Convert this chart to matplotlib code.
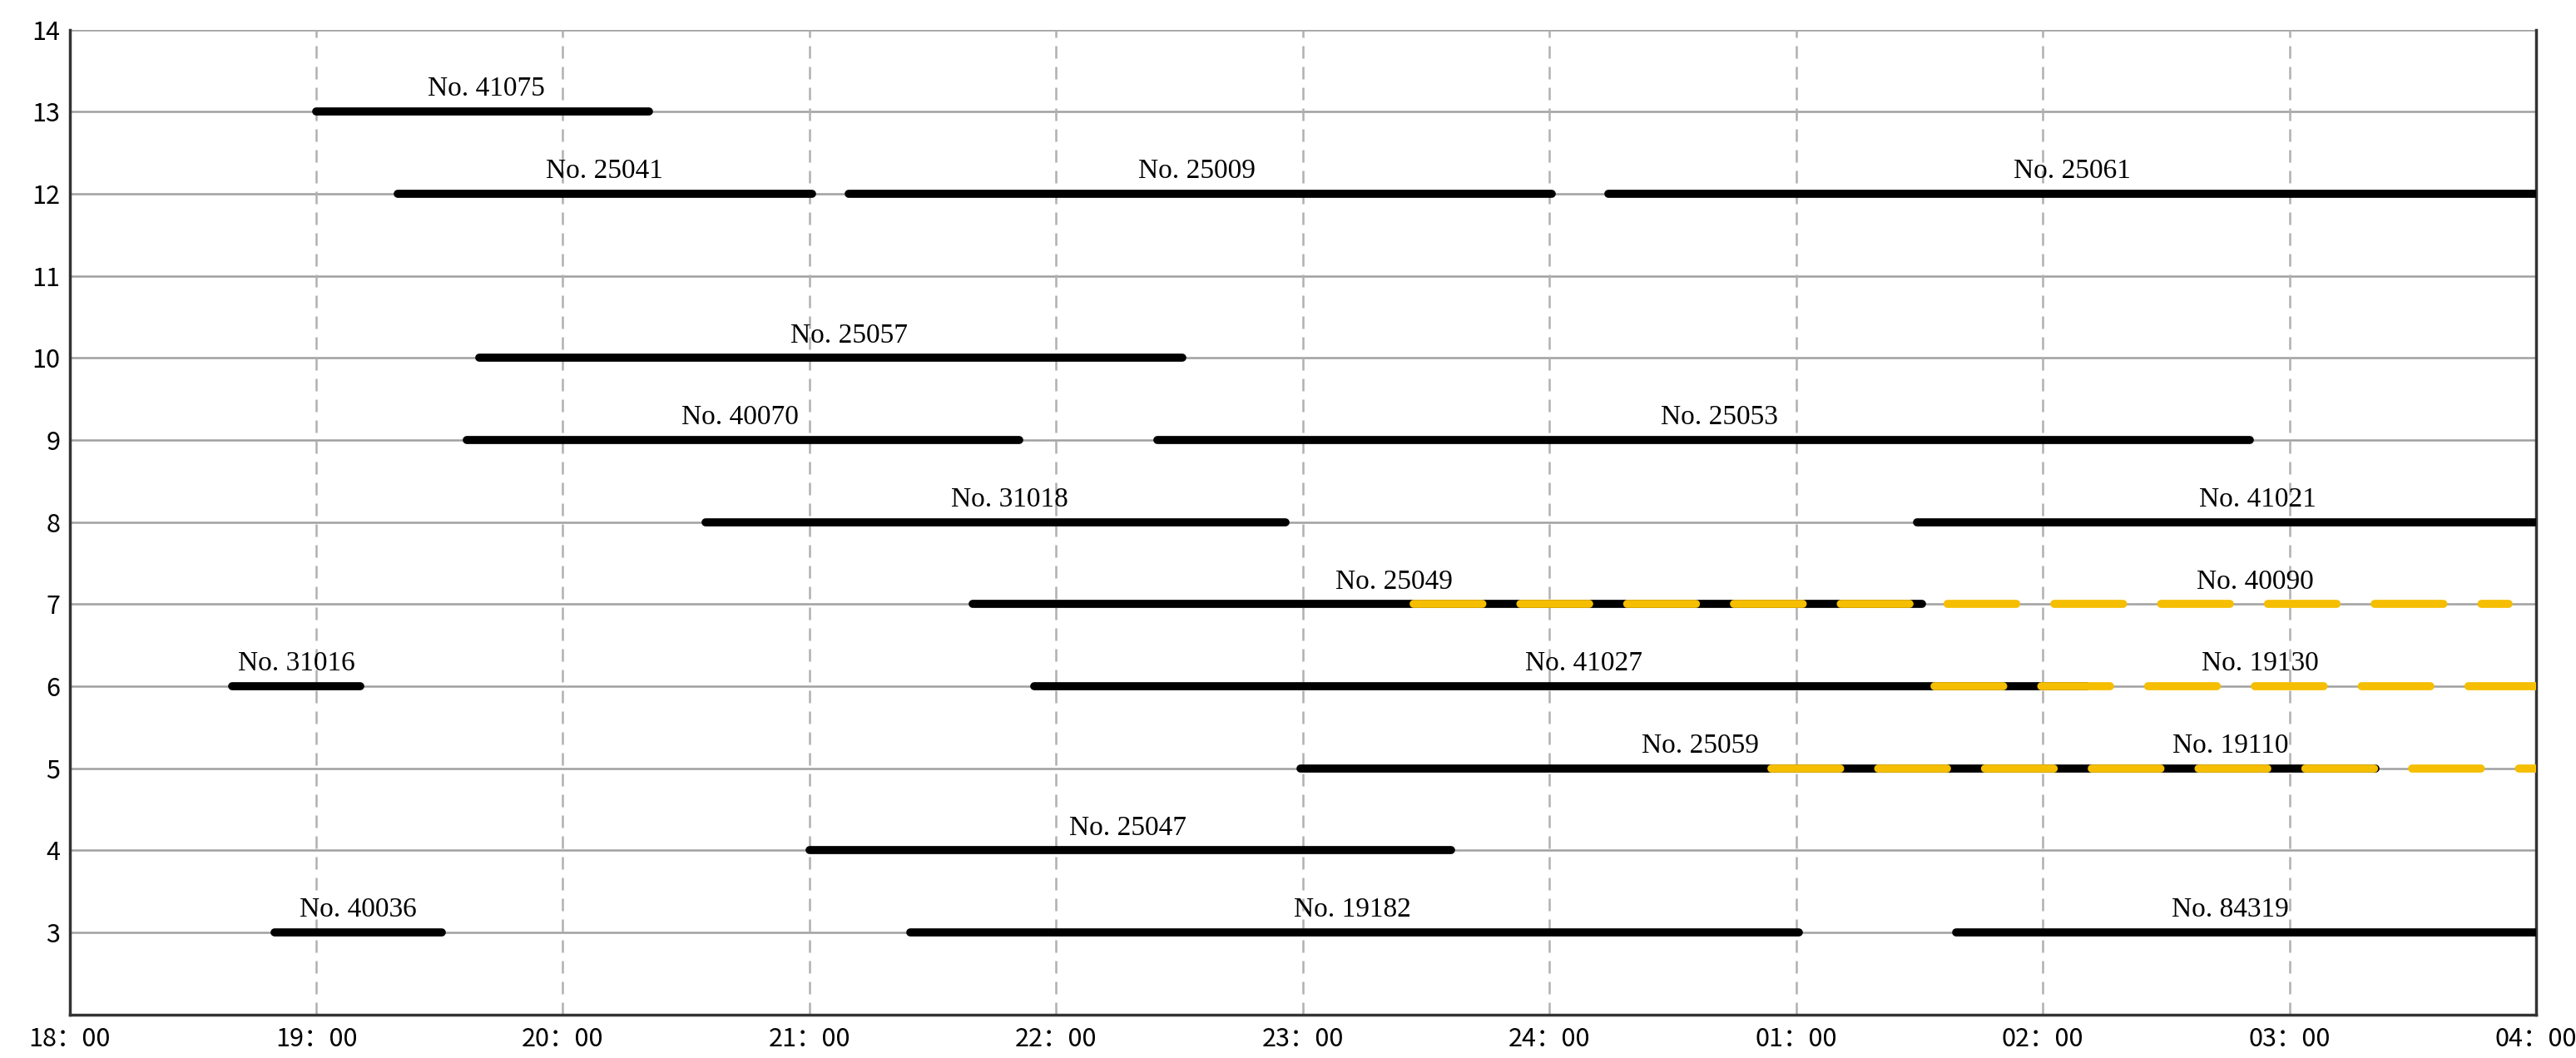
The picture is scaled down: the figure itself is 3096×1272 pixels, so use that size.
import matplotlib.pyplot as plt

plt.rcParams['font.family'] = ['Noto Sans CJK SC', 'DejaVu Sans']

# hours after 18:00
black_names = ["No. 41075", "No. 25041", "No. 25009", "No. 25061", "No. 25057",
               "No. 40070", "No. 25053", "No. 31018", "No. 41021", "No. 25049",
               "No. 31016", "No. 41027", "No. 25059", "No. 25047", "No. 40036",
               "No. 19182", "No. 84319"]
black_rows = [13, 12, 12, 12, 10, 9, 9, 8, 8, 7, 6, 6, 5, 4, 3, 3, 3]
black_start = [1.0, 1.33, 3.16, 6.24, 1.66, 1.61, 4.41, 2.58, 7.49, 3.66,
               0.66, 3.91, 4.99, 3.0, 0.83, 3.41, 7.65]
black_end = [2.35, 3.01, 6.01, 10.0, 4.51, 3.85, 8.84, 4.93, 10.0, 7.51,
             1.18, 8.18, 9.35, 5.6, 1.51, 7.01, 10.0]
black_label_x = [1.69, 2.17, 4.57, 8.12, 3.16, 2.72, 6.69, 3.81, 8.87, 5.37,
                 0.92, 6.14, 6.61, 4.29, 1.17, 5.2, 8.76]

yellow_names = ["No. 40090", "No. 19130", "No. 19110"]
yellow_rows = [7, 6, 5]
yellow_start = [5.45, 7.56, 6.9]
yellow_end = [9.89, 10.0, 10.0]
yellow_label_x = [8.86, 8.88, 8.76]

hour_labels = ["18：00", "19：00", "20：00", "21：00", "22：00", "23：00",
               "24：00", "01：00", "02：00", "03：00", "04：00"]

fig = plt.figure(figsize=(30.96, 12.72), dpi=100)
ax = fig.add_axes([0.027, 0.041, 0.9575, 0.931])

for y in range(3, 15):
    ax.axhline(y, color="#a0a0a0", linewidth=1.8, zorder=1)
for x in range(1, 10):
    ax.axvline(x, color="#b0b0b0", linewidth=1.8, linestyle=(0, (6, 4)), zorder=1)

for name, r, s, e, lx in zip(black_names, black_rows, black_start, black_end, black_label_x):
    ax.plot([s, e], [r, r], color="black", linewidth=7, solid_capstyle="round", zorder=3)
    ax.text(lx, r + 0.12, name, ha="center", va="bottom", fontsize=24,
            family="Liberation Serif", zorder=4)

for name, r, s, e, lx in zip(yellow_names, yellow_rows, yellow_start, yellow_end, yellow_label_x):
    ax.plot([s, e], [r, r], color="#F5BE00", linewidth=7, linestyle=(0, (8.5, 4.7)),
            dash_capstyle="round", zorder=5)
    ax.text(lx, r + 0.12, name, ha="center", va="bottom", fontsize=24,
            family="Liberation Serif", zorder=4)

ax.set_xlim(0, 10)
ax.set_ylim(2, 14)
ax.set_xticks(range(11))
ax.set_xticklabels(hour_labels, fontsize=22)
ax.set_yticks(range(3, 15))
ax.tick_params(axis="y", labelsize=22, length=0, pad=8)
ax.tick_params(axis="x", length=0, pad=10)
ax.spines["top"].set_visible(False)
for s in ["left", "bottom", "right"]:
    ax.spines[s].set_color("#333333")
    ax.spines[s].set_linewidth(2.5)

fig.savefig("out.png", dpi=100)
